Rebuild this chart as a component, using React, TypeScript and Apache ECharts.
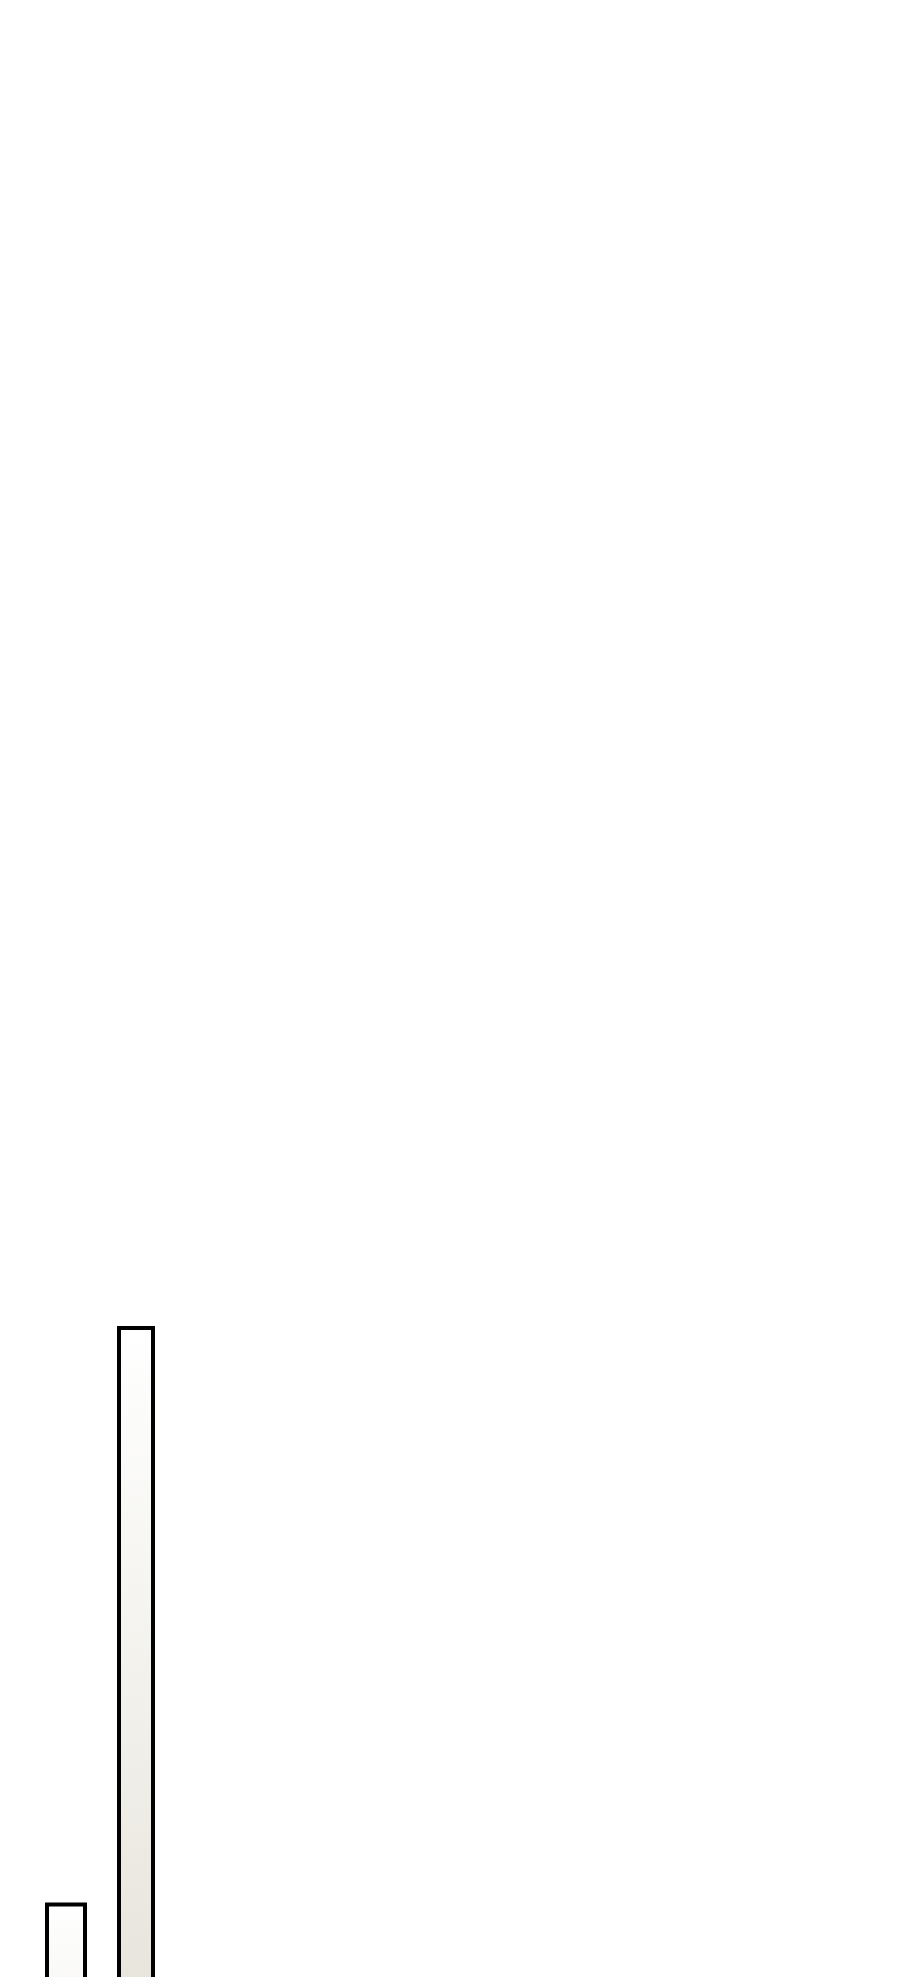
import * as echarts from 'echarts';
import { useEffect, useRef } from 'react';

// chart data
const categories = ['Group 1'];
const seriesNames = ['Series A', 'Series B'];
const seriesAValues = [20.8];
const seriesBValues = [44.9];

// the chart is taller than the page; only its upper part is shown
const VISIBLE_HEIGHT = 1977;
const CHART_HEIGHT = 2392;

function barFill() {
  return new echarts.graphic.LinearGradient(0, 0, 0, 1, [
    { offset: 0, color: '#ffffff' },
    { offset: 1, color: '#d8d5c6' }
  ]);
}

export default function App() {
  const elRef = useRef<HTMLDivElement | null>(null);

  useEffect(() => {
    if (!elRef.current) return;
    const chart = echarts.init(elRef.current, undefined, { renderer: 'svg' });

    chart.setOption({
      animation: false,
      backgroundColor: '#ffffff',
      grid: { left: 0, width: 184, top: 0, bottom: 0 },
      xAxis: {
        type: 'category',
        data: categories,
        show: false
      },
      yAxis: {
        type: 'value',
        min: 0,
        max: 100,
        show: false,
        splitLine: { show: false }
      },
      series: [
        {
          type: 'bar',
          name: seriesNames[0],
          data: seriesAValues,
          barWidth: 42,
          barGap: '71.4%',
          itemStyle: { color: barFill(), borderColor: '#000000', borderWidth: 4 }
        },
        {
          type: 'bar',
          name: seriesNames[1],
          data: seriesBValues,
          barWidth: 38,
          barGap: '71.4%',
          itemStyle: { color: barFill(), borderColor: '#000000', borderWidth: 4 }
        }
      ]
    });

    return () => {
      chart.dispose();
    };
  }, []);

  return (
    <div style={{ height: VISIBLE_HEIGHT, overflow: 'hidden', marginBottom: -8 }}>
      <div ref={elRef} style={{ width: '100%', height: CHART_HEIGHT }} />
    </div>
  );
}
